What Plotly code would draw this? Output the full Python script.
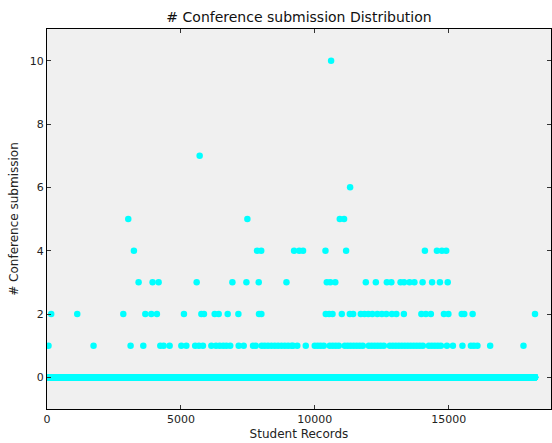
import numpy as np
import plotly.graph_objects as go

# Total number of student records (record index runs 0 .. N-1)
n_records = 18220

# Record indices holding non-zero submission counts, grouped by count
records_1 = [56, 1738, 3120, 3595, 4230, 4354, 4578, 5015, 5202, 5531, 5673, 5822,
             6136, 6308, 6446, 6577, 6697, 6839, 7156, 7343, 7691, 7792, 7904, 8016,
             8128, 8251, 8378, 8502, 8625, 8752, 8875, 8999, 9126, 9186, 9343, 9660,
             9996, 10109, 10220, 10333, 10445, 10557, 10669, 10781, 10893, 11005,
             11117, 11229, 11341, 11453, 11566, 11678, 11790, 11902, 12014, 12126,
             12238, 12350, 12462, 12575, 12687, 12799, 12911, 13023, 13135, 13247,
             13359, 13471, 13584, 13696, 13808, 13920, 14032, 14144, 14256, 14368,
             14480, 14593, 14705, 14817, 14929, 15153, 15509, 15826, 15938, 16069,
             16544, 17788]
records_2 = [157, 1129, 2848, 3670, 3894, 4103, 5112, 5762, 5860, 6259, 6409, 6745,
             7145, 7915, 8004, 9223, 10407, 10531, 10658, 11005, 11166, 11304, 11428,
             11715, 11854, 11996, 12145, 12332, 12500, 12668, 12874, 13042, 13322,
             13976, 14144, 14331, 14667, 14817, 14985, 15482, 15576, 15889, 18218]
records_3 = [3419, 3942, 4167, 5587, 6921, 7444, 7904, 8939, 10445, 10576, 10762,
             11902, 12276, 12687, 12855, 13199, 13330, 13535, 13715, 14021, 14376,
             14667, 14959]
records_4 = [3244, 7840, 7997, 9223, 9417, 9559, 10396, 11166, 14107, 14556, 14742,
             14903]
records_5 = [3034, 7480, 10930, 11090]
records_6 = [11316]
records_7 = [5699]
records_10 = [10606]

counts = {1: records_1, 2: records_2, 3: records_3, 4: records_4,
          5: records_5, 6: records_6, 7: records_7, 10: records_10}

submissions = np.zeros(n_records)
for value, idx in counts.items():
    submissions[np.array(idx)] = value

record_index = np.arange(n_records)

x_ticks = [0, 5000, 10000, 15000]
x_tick_labels = ["0", "5000", "10000", "15000"]
y_ticks = [0, 2, 4, 6, 8, 10]

fig = go.Figure()
fig.add_trace(go.Scatter(
    x=record_index,
    y=submissions,
    mode="markers",
    marker=dict(color="#00ffff", size=6.5, line=dict(width=0)),
    showlegend=False,
    hoverinfo="x+y",
))

axis_common = dict(
    showline=True, linecolor="black", linewidth=1, mirror="ticks",
    ticks="inside", ticklen=4, tickcolor="#333333", tickwidth=1,
    showgrid=False, zeroline=False,
    tickfont=dict(family="DejaVu Sans", size=11, color="#222222"),
)

fig.update_layout(
    width=552, height=443,
    margin=dict(l=47, r=1, t=29, b=34),
    paper_bgcolor="white",
    plot_bgcolor="#f0f0f0",
    title=dict(text="# Conference submission Distribution",
               x=(47 + 551) / 2 / 552, xanchor="center",
               y=1 - 17 / 443, yanchor="middle",
               font=dict(family="DejaVu Sans", size=14, color="#111111")),
    xaxis=dict(range=[0, 18815], tickvals=x_ticks, ticktext=x_tick_labels,
               title=dict(text="Student Records", standoff=4,
                          font=dict(family="DejaVu Sans", size=12, color="#222222")),
               **axis_common),
    yaxis=dict(range=[-1, 11], tickvals=y_ticks,
               title=dict(text="# Conference submission", standoff=8,
                          font=dict(family="DejaVu Sans", size=12, color="#222222")),
               **axis_common),
)

fig.write_html("out.html")
